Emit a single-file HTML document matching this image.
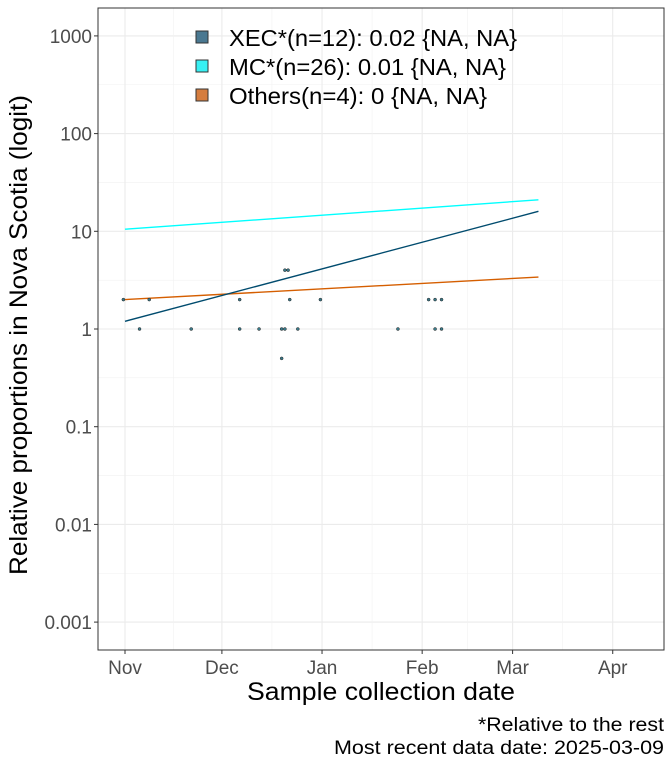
<!DOCTYPE html>
<html><head><meta charset="utf-8"><style>
body{margin:0;background:#fff;font-family:"Liberation Sans",sans-serif}
</style></head><body>
<svg width="672" height="768" viewBox="0 0 672 768" xmlns="http://www.w3.org/2000/svg" id="svg">
<rect x="0" y="0" width="672" height="768" fill="#fff"/>
<g id="grid"></g>
<rect x="98" y="8" width="566" height="642" fill="none" stroke="#333" stroke-width="1"/>
<g id="marks"></g>
<g id="axes" font-size="19" fill="#4d4d4d"></g>
<text x="247" y="700" textLength="268" lengthAdjust="spacingAndGlyphs" font-size="25" fill="#000">Sample collection date</text>
<text transform="translate(27,335) rotate(-90)" text-anchor="middle" textLength="480" lengthAdjust="spacingAndGlyphs" font-size="25" fill="#000">Relative proportions in Nova Scotia (logit)</text>
<text x="478" y="731" textLength="186" lengthAdjust="spacingAndGlyphs" font-size="19" fill="#000">*Relative to the rest</text>
<text x="334" y="754" textLength="330" lengthAdjust="spacingAndGlyphs" font-size="19" fill="#000">Most recent data date: 2025-03-09</text>
<g id="legend" font-size="23" fill="#000">
<g><rect x="196" y="31" width="12" height="12" fill="#4a7891" stroke="#333"/><text x="229" y="46" textLength="288" lengthAdjust="spacingAndGlyphs">XEC*(n=12): 0.02 {NA, NA}</text></g>
<g><rect x="196" y="60" width="12" height="12" fill="#38f0f3" stroke="#333"/><text x="229" y="75" textLength="277" lengthAdjust="spacingAndGlyphs">MC*(n=26): 0.01 {NA, NA}</text></g>
<g><rect x="196" y="89" width="12" height="12" fill="#d57d3f" stroke="#333"/><text x="229" y="104" textLength="258" lengthAdjust="spacingAndGlyphs">Others(n=4): 0 {NA, NA}</text></g>
</g>
</svg>
<script>
const yTicks=[1000,100,10,1,0.1,0.01,0.001];
const yTickLabels=["1000","100","10","1","0.1","0.01","0.001"];
const xTickDays=[0,30,61,92,120,151];
const xTickLabels=["Nov","Dec","Jan","Feb","Mar","Apr"];
const lineStartDay=0, lineEndDay=128;
const xecLine=[1.2,16];
const mcLine=[10.5,21];
const othersLine=[2.0,3.4];
const pointDays=[-0.5,7.5,35.5,51,60.5,94,96,98,4.5,20.5,35.5,41.5,48.5,49.5,53.5,84.5,96,98,48.5,49.5,50.5];
const pointValues=[2,2,2,2,2,2,2,2,1,1,1,1,1,1,1,1,1,1,0.5,4,4];
const NS="http://www.w3.org/2000/svg";
const X=d=>125+d*3.23;
const Y=v=>329-Math.log10(v)*97.7;
function mk(t,a,p){const e=document.createElementNS(NS,t);for(const k in a)e.setAttribute(k,a[k]);p.appendChild(e);return e;}
const grid=document.getElementById('grid'),marks=document.getElementById('marks'),axes=document.getElementById('axes');
yTicks.forEach((v,i)=>{
 const g=mk('line',{x1:98,x2:664,y1:Y(v),y2:Y(v),stroke:'#ebebeb','stroke-width':1.1},grid);
 
 
 const m=mk('line',{x1:98,x2:664,y1:Y(v)-48.85,y2:Y(v)-48.85,stroke:'#f2f2f2','stroke-width':0.6},grid);
 
 
 const t=mk('text',{x:92,y:Y(v)+7,'text-anchor':'end'},axes);t.textContent=yTickLabels[i];
 
 
 mk('line',{x1:94,x2:98,y1:Y(v),y2:Y(v),stroke:'#333'},axes);
});
xTickDays.forEach((d,i)=>{
 const g=mk('line',{x1:X(d),x2:X(d),y1:8,y2:650,stroke:'#ebebeb','stroke-width':1.1},grid);
 
 
 if(i<xTickDays.length-1){const mm=(X(d)+X(xTickDays[i+1]))/2;
 const m=mk('line',{x1:mm,x2:mm,y1:8,y2:650,stroke:'#f2f2f2','stroke-width':0.6},grid);
 
 }
 const t=mk('text',{x:X(d),y:674,'text-anchor':'middle'},axes);t.textContent=xTickLabels[i];
 
 
 mk('line',{x1:X(d),x2:X(d),y1:650,y2:654,stroke:'#333'},axes);
});
[[mcLine,'#00ffff','mc-fit-line'],[othersLine,'#d55e00','others-fit-line'],[xecLine,'#004b6e','xec-fit-line']].forEach(([l,c,n])=>{
 const e=mk('line',{x1:X(lineStartDay),y1:Y(l[0]),x2:X(lineEndDay),y2:Y(l[1]),stroke:c,'stroke-width':1.4},marks);
 
 
});
pointDays.forEach((d,i)=>{
 const c=mk('circle',{cx:X(d),cy:Y(pointValues[i]),r:1.5,fill:'#3a7a8a',stroke:'#222','stroke-width':0.5},marks);
 
 
});
</script>
</body></html>
